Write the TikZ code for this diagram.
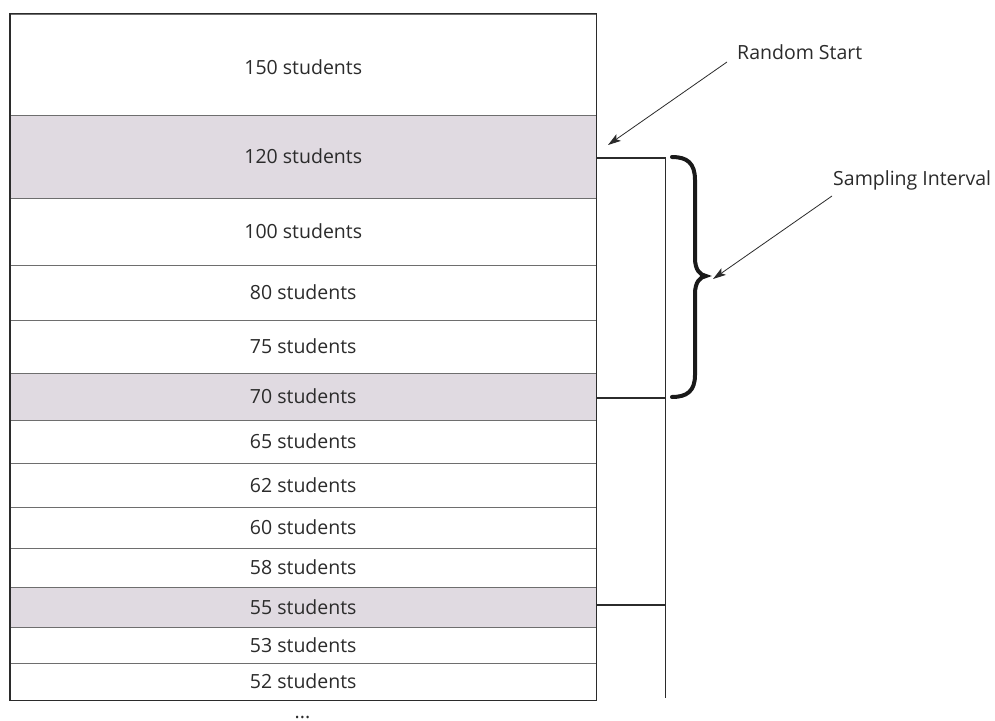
\documentclass[tikz,border=0pt]{standalone}
\usepackage{fontspec}
\setmainfont{Open Sans}
\usetikzlibrary{arrows.meta}
\definecolor{shade}{HTML}{E0DAE1}
\definecolor{rowline}{HTML}{6E6E6E}
\definecolor{ink}{HTML}{2B2B2B}
\begin{document}
\begin{tikzpicture}[x=1pt,y=-1pt,
  rowbox/.style={draw=rowline, line width=1pt, minimum width=585.5pt, inner sep=0pt,
    text=ink, font=\fontsize{19.5}{22}\selectfont, anchor=center},
  picked/.style={fill=shade},
  lbl/.style={text=ink, font=\fontsize{19.5}{22}\selectfont, inner sep=0pt},
  conn/.style={draw=ink, line width=1.5pt},
  pointer/.style={draw=ink, line width=0.8pt, -{Stealth[length=13pt,width=8pt,inset=3pt]}},
  bracestyle/.style={draw=black!90, line width=4pt, line cap=round}
]
\useasboundingbox (0,0) rectangle (995,720);
\clip (0,0) rectangle (995,720);
\fill[white] (0,0) rectangle (995,720);

% rows
\node[rowbox, minimum height=101pt, text height=20pt, text depth=0pt] (r150) at (303.25,64.5) {150 students};
\node[rowbox, picked, minimum height=83pt] (r120) at (303.25,156.5) {120 students};
\node[rowbox, minimum height=67pt] (r100) at (303.25,231.5) {100 students};
\node[rowbox, minimum height=55pt] (r80) at (303.25,292.5) {80 students};
\node[rowbox, minimum height=53pt] (r75) at (303.25,346.5) {75 students};
\node[rowbox, picked, minimum height=47pt] (r70) at (303.25,396.5) {70 students};
\node[rowbox, minimum height=43pt] (r65) at (303.25,441.5) {65 students};
\node[rowbox, minimum height=44pt] (r62) at (303.25,485) {62 students};
\node[rowbox, minimum height=41pt] (r60) at (303.25,527.5) {60 students};
\node[rowbox, minimum height=39pt] (r58) at (303.25,567.5) {58 students};
\node[rowbox, picked, minimum height=40pt] (r55) at (303.25,607) {55 students};
\node[rowbox, minimum height=36pt] (r53) at (303.25,645) {53 students};
\node[rowbox, minimum height=37pt] (r52) at (303.25,681.5) {52 students};
\draw[draw=ink, line width=1.2pt] (r150.north west) rectangle (r52.south east);

\node[lbl, anchor=base] (dots) at (302.5,718.5) {...};

% selection connector
\coordinate (spineTop) at (665.5,158);
\coordinate (spineBot) at (665.5,698);
\draw[conn] (r120.east |- spineTop) -- (spineTop) -- (spineBot);
\draw[conn] (r70.east) ++(0,1.5) -- (spineTop |- {(0,398)});
\draw[conn] (r55.east) ++(0,-2) -- (spineTop |- {(0,605)});

% brace
\draw[bracestyle] (672,157) .. controls (687,157) and (695,163) .. (695,180)
  -- (695,258) .. controls (695,270) and (700,275) .. (706,276)
  .. controls (700,277) and (695,282) .. (695,294)
  -- (695,375) .. controls (695,391) and (687,397) .. (672,397);

% labels and pointers
\node[lbl, anchor=west] (rs) at (737,52) {Random Start};
\node[lbl, anchor=west] (si) at (833,180) {Sampling Interval};
\coordinate (rstip) at (608,145);
\coordinate (sitip) at (713,279);
\draw[pointer] (rs.west) ++(-10,10) -- (rstip);
\draw[pointer] (si.west) ++(-1,16) -- (sitip);
\end{tikzpicture}
\end{document}
